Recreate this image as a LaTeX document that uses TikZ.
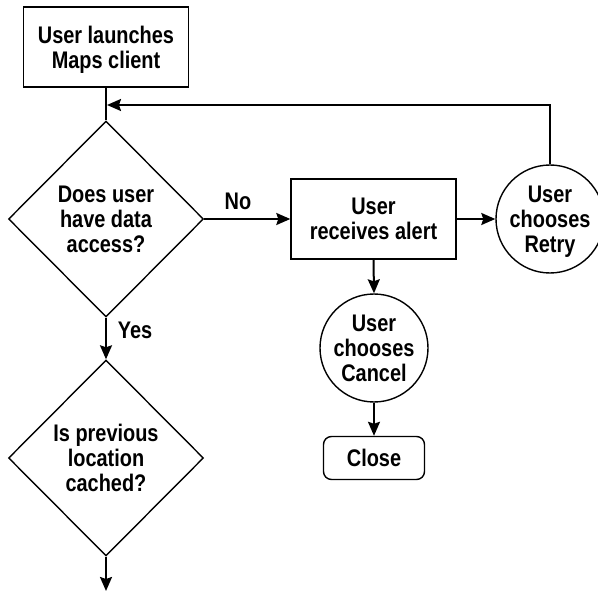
\documentclass[tikz,border=0pt]{standalone}
\usepackage{fontspec}
\setmainfont[FakeStretch=0.83]{Liberation Sans}
\usetikzlibrary{shapes.geometric,arrows.meta}
\begin{document}
\begin{tikzpicture}[x=1pt,y=-1pt,
  every node/.style={font=\bfseries\fontsize{24pt}{25pt}\selectfont, align=center, inner sep=0pt},
  shp/.style={draw, line width=1.4pt},
  tx/.style={text depth=0pt},
  boxnode/.style={shp, rectangle, minimum width=165pt, minimum height=80pt},
  dia/.style={shp, diamond, aspect=1, minimum width=195pt, minimum height=196pt},
  circ/.style={shp, circle, minimum size=108pt},
  closebox/.style={shp, rectangle, rounded corners=8pt, minimum width=101pt, minimum height=43pt},
  arr/.style={line width=2pt, -{Stealth[length=14pt,width=12pt,inset=2pt]}},
  ln/.style={line width=2pt},
  lbl/.style={}]
\useasboundingbox (0,0) rectangle (598,591);
\node[boxnode, tx] (launch) at (106,47) {User launches\\Maps client};
\node[dia] (access) at (106,219) {Does user\\have data\\access?};
\node[boxnode] (alert) at (373.5,219) {User\\receives alert};
\node[circ, tx] (retry) at (550,219) {User\\chooses\\Retry};
\node[circ] (cancel) at (374,348) {User\\chooses\\Cancel};
\node[closebox] (close) at (374,458) {Close};
\node[dia] (cached) at (106,458) {Is previous\\location\\cached?};
\node[lbl] (no) at (238,201) {No};
\node[lbl] (yes) at (135,330) {Yes};
\coordinate (join) at (106,105);
\coordinate (corner) at (550,105);
\coordinate (bottom) at (106,591);
\draw[ln] (launch.south) -- (access.north);
\draw[arr] (retry.north) -- (corner) -- ([xshift=1pt]join);
\draw[arr] (access.east) -- (alert.west);
\draw[arr] (alert.east) -- (retry.west);
\draw[arr] (alert.south) -- (cancel.north);
\draw[arr] (cancel.south) -- (close.north);
\draw[arr] (access.south) -- (cached.north);
\draw[arr] (cached.south) -- (bottom);
\end{tikzpicture}
\end{document}
